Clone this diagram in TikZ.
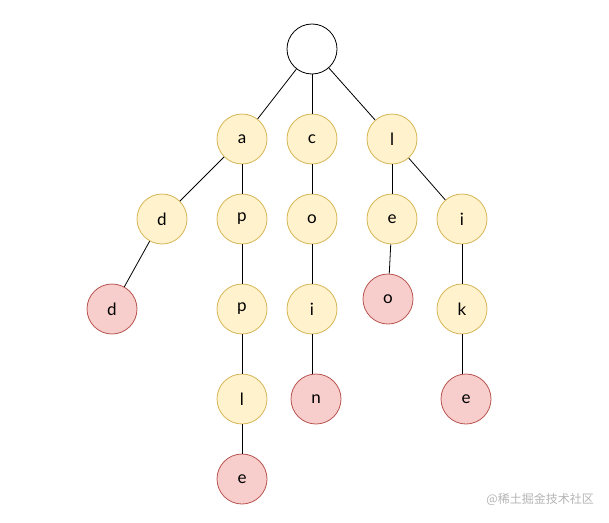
\documentclass[tikz,border=0pt]{standalone}
\usepackage{fontspec}
\setmainfont{Lato}
\newfontfamily\cjk{Noto Sans CJK SC}
\definecolor{yfill}{HTML}{FFF2CC}
\definecolor{ydraw}{HTML}{D6B656}
\definecolor{rfill}{HTML}{F8CECC}
\definecolor{rdraw}{HTML}{B85450}
\definecolor{wm}{HTML}{B4B4B4}
\begin{document}
\begin{tikzpicture}[x=1pt,y=-1pt,
  base/.style={circle,minimum size=50pt,inner sep=0pt,line width=0.8pt,font=\fontsize{17}{17}\selectfont},
  rootn/.style={base,draw=black,fill=white},
  ynode/.style={base,draw=ydraw,fill=yfill},
  rnode/.style={base,draw=rdraw,fill=rfill},
  edge/.style={draw=black,line width=0.8pt}]
\useasboundingbox (0,0) rectangle (609,522);
\node[rootn] (root) at (312,49) {};
\node[ynode] (a) at (242,139) {a};
\node[ynode] (c) at (312,139) {c};
\node[ynode] (l) at (392,139) {l};
\node[ynode] (d1) at (162,219) {d};
\node[ynode] (p1) at (242,219) {p};
\node[ynode] (o1) at (312,219) {o};
\node[ynode] (e1) at (392,219) {e};
\node[ynode] (i1) at (462,219) {i};
\node[rnode] (d2) at (112,309) {d};
\node[ynode] (p2) at (242,309) {p};
\node[ynode] (i2) at (312,309) {i};
\node[rnode] (o2) at (388,299) {o};
\node[ynode] (k) at (462,309) {k};
\node[ynode] (l2) at (242,399) {l};
\node[rnode] (n) at (316,399) {n};
\node[rnode] (e3) at (466,399) {e};
\node[rnode] (e2) at (242,479) {e};
\draw[edge] (root) -- (a);
\draw[edge] (root) -- (c);
\draw[edge] (root) -- (l);
\draw[edge] (a) -- (d1);
\draw[edge] (d1) -- (d2);
\draw[edge] (a) -- (p1);
\draw[edge] (p1) -- (p2);
\draw[edge] (p2) -- (l2);
\draw[edge] (l2) -- (e2);
\draw[edge] (c) -- (o1);
\draw[edge] (o1) -- (i2);
\draw[edge] (i2.south) -- (i2.south |- n.north);
\draw[edge] (l) -- (e1);
\draw[edge] (e1) -- (o2);
\draw[edge] (l) -- (i1);
\draw[edge] (i1) -- (k);
\draw[edge] (k.south) -- (k.south |- e3.north);
\node[text=wm,font=\cjk\fontsize{12}{12}\selectfont,anchor=east,inner sep=0pt] (wmark) at (594,499) {@稀土掘金技术社区};
\end{tikzpicture}
\end{document}
